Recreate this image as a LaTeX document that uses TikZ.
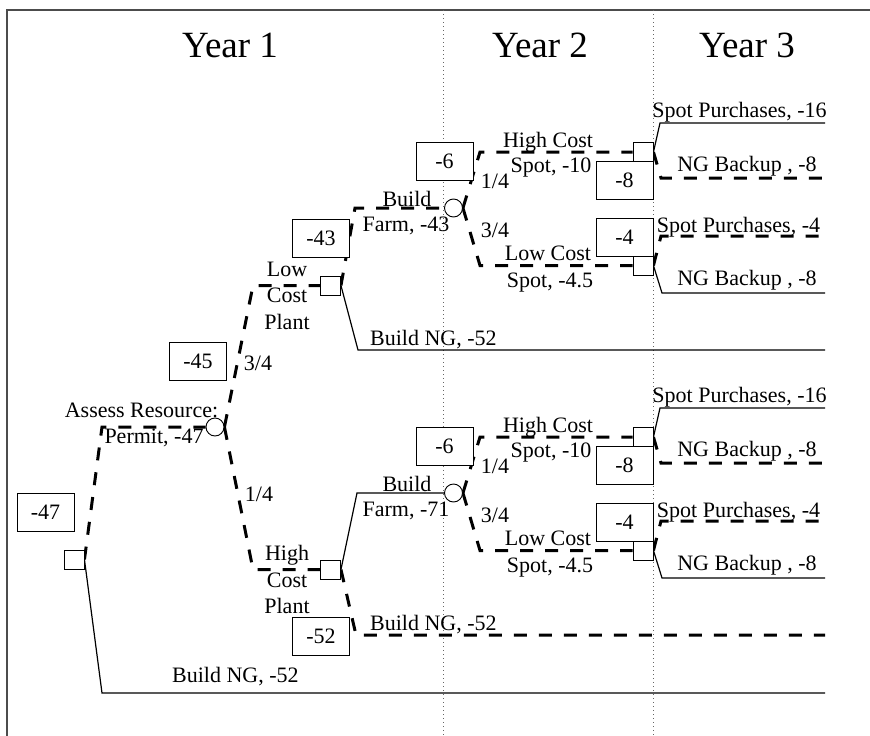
\documentclass[tikz,border=0pt]{standalone}
\usepackage{fontspec}
\setmainfont{Liberation Serif}
\usetikzlibrary{backgrounds}
\newcommand\lblfont{\fontsize{22}{26.5}\selectfont}
\newcommand\yearfont{\fontsize{37}{40}\selectfont}
\begin{document}
\begin{tikzpicture}[x=1pt,y=-1pt,
  decision/.style={draw, line width=0.9pt, minimum width=20pt, minimum height=19pt, inner sep=0pt, fill=white},
  chance/.style={circle, draw, line width=0.9pt, minimum size=18pt, inner sep=0pt, fill=white},
  valbox/.style={draw, line width=0.9pt, minimum width=57pt, minimum height=38pt, inner sep=0pt, fill=white, font=\lblfont},
  optimal/.style={line width=3pt, dash pattern=on 13pt off 12pt},
  branch/.style={line width=1.2pt},
  lbl/.style={font=\lblfont, inner sep=0pt, anchor=base},
  lblw/.style={font=\lblfont, inner sep=0pt, anchor=base west},
  year/.style={font=\yearfont, inner sep=0pt, anchor=base},
  divider/.style={line width=0.8pt, black!60, dash pattern=on 1pt off 3pt}
]
\useasboundingbox (0,0) rectangle (870,736);

% ---- column titles
\node[year] (year1) at (230,57) {Year 1};
\node[year] (year2) at (540,57) {Year 2};
\node[year] (year3) at (747,57) {Year 3};

% ---- decision and chance nodes
\node[decision] (root)  at (74,559.5) {};
\node[chance]   (assess) at (215,427) {};
\node[decision] (lowplant)  at (330.5,285.5) {};
\node[decision] (highplant) at (330.5,569.5) {};
\node[chance]   (farmA) at (453.5,208) {};
\node[chance]   (farmB) at (453.5,493) {};
\node[decision] (spotAH) at (643,152) {};
\node[decision] (spotAL) at (643,265.5) {};
\node[decision] (spotBH) at (643,437) {};
\node[decision] (spotBL) at (643,550.5) {};

% ---- expected values
\node[valbox] (v47) at (45.5,512.5) {-47};
\node[valbox] (v45) at (198,361) {-45};
\node[valbox] (v43) at (321,238) {-43};
\node[valbox] (v6a) at (444.5,161.5) {-6};
\node[valbox] (v8a) at (624.5,180.5) {-8};
\node[valbox] (v4a) at (624.5,237) {-4};
\node[valbox] (v6b) at (444.5,446.5) {-6};
\node[valbox] (v8b) at (624.5,465) {-8};
\node[valbox] (v4b) at (624.5,522) {-4};
\node[valbox] (v52) at (321,636) {-52};

% ---- branch corners and free ends
\coordinate (rootUp) at (102,427);
\coordinate (rootDn) at (102,693);
\coordinate (rootEnd) at (825,693);
\coordinate (assUp) at (253,285.5);
\coordinate (assDn) at (253,569.5);
\coordinate (lowUp) at (355,208);
\coordinate (lowDn) at (358,350);
\coordinate (lowEnd) at (825,350);
\coordinate (highUp) at (357,493);
\coordinate (highDn) at (356,635);
\coordinate (highEnd) at (825,635);
\coordinate (faUp) at (480,152);
\coordinate (faDn) at (480,265.5);
\coordinate (fbUp) at (480,437);
\coordinate (fbDn) at (480,550.5);
\coordinate (ahUp) at (660,123);   \coordinate (ahUpEnd) at (825,123);
\coordinate (ahDn) at (661,178);   \coordinate (ahDnEnd) at (825,178);
\coordinate (alUp) at (661,236);   \coordinate (alUpEnd) at (825,236);
\coordinate (alDn) at (662,293);   \coordinate (alDnEnd) at (825,293);
\coordinate (bhUp) at (660,408);   \coordinate (bhUpEnd) at (825,408);
\coordinate (bhDn) at (661,463);   \coordinate (bhDnEnd) at (825,463);
\coordinate (blUp) at (661,521);   \coordinate (blUpEnd) at (825,521);
\coordinate (blDn) at (662,578);   \coordinate (blDnEnd) at (825,578);

\begin{scope}[on background layer]
  % frame and year dividers
  \draw[line width=1.3pt, black!70] (7,736) -- (7,10) -- (870,10);
  \draw[divider] (443,10) -- (443,736);
  \draw[divider] (653,10) -- (653,736);

  % year 1
  \draw[optimal] (root.east) -- (rootUp) -- (assess.west);
  \draw[branch]  (root.east) -- (rootDn) -- (rootEnd);
  \draw[optimal] (assess.east) -- (assUp) -- (lowplant.west);
  \draw[optimal] (assess.east) -- (assDn) -- (highplant.west);
  \draw[optimal] (lowplant.east) -- (lowUp) -- (farmA.west);
  \draw[branch]  (lowplant.east) -- (lowDn) -- (lowEnd);
  \draw[branch]  (highplant.east) -- (highUp) -- (farmB.west);
  \draw[optimal] (highplant.east) -- (highDn) -- (highEnd);

  % year 2
  \draw[optimal] (farmA.east) -- (faUp) -- (spotAH.west);
  \draw[optimal] (farmA.east) -- (faDn) -- (spotAL.west);
  \draw[optimal] (farmB.east) -- (fbUp) -- (spotBH.west);
  \draw[optimal] (farmB.east) -- (fbDn) -- (spotBL.west);

  % year 3
  \draw[branch]  (spotAH.east) -- (ahUp) -- (ahUpEnd);
  \draw[optimal] (spotAH.east) -- (ahDn) -- (ahDnEnd);
  \draw[optimal] (spotAL.east) -- (alUp) -- (alUpEnd);
  \draw[branch]  (spotAL.east) -- (alDn) -- (alDnEnd);
  \draw[branch]  (spotBH.east) -- (bhUp) -- (bhUpEnd);
  \draw[optimal] (spotBH.east) -- (bhDn) -- (bhDnEnd);
  \draw[optimal] (spotBL.east) -- (blUp) -- (blUpEnd);
  \draw[branch]  (spotBL.east) -- (blDn) -- (blDnEnd);
\end{scope}

% ---- branch labels, year 1
\node[lbl] (tAssess1) at (141.5,417) {Assess Resource:};
\node[lbl] (tAssess2) at (154,443) {Permit, -47};
\node[lblw] (tRootNG) at (172,682) {Build NG, -52};
\node[lbl] (tP34) at (258,370) {3/4};
\node[lbl] (tP14) at (259,501) {1/4};
\node[lbl] (tLow1) at (287,276) {Low};
\node[lbl] (tLow2) at (287,302) {Cost};
\node[lbl] (tLow3) at (287,329) {Plant};
\node[lbl] (tHigh1) at (287,560) {High};
\node[lbl] (tHigh2) at (287,587) {Cost};
\node[lbl] (tHigh3) at (287,613) {Plant};
\node[lbl] (tFarmA1) at (407,206) {Build};
\node[lbl] (tFarmA2) at (406,231) {Farm, -43};
\node[lbl] (tFarmB1) at (407,491) {Build};
\node[lbl] (tFarmB2) at (406,516) {Farm, -71};
\node[lblw] (tLowNG) at (370,345) {Build NG, -52};
\node[lblw] (tHighNG) at (370,630) {Build NG, -52};

% ---- branch labels, year 2
\node[lbl] (tAH1) at (548,147) {High Cost};
\node[lbl] (tAH2) at (551,172) {Spot, -10};
\node[lbl] (tAL1) at (548,260) {Low Cost};
\node[lbl] (tAL2) at (550,287) {Spot, -4.5};
\node[lbl] (tAp14) at (495,188) {1/4};
\node[lbl] (tAp34) at (495,237) {3/4};
\node[lbl] (tBH1) at (548,432) {High Cost};
\node[lbl] (tBH2) at (551,457) {Spot, -10};
\node[lbl] (tBL1) at (548,545) {Low Cost};
\node[lbl] (tBL2) at (550,572) {Spot, -4.5};
\node[lbl] (tBp14) at (495,473) {1/4};
\node[lbl] (tBp34) at (495,522) {3/4};

% ---- branch labels, year 3
\node[lbl] (tAHs) at (739.5,117) {Spot Purchases, -16};
\node[lbl] (tAHb) at (747,171) {NG Backup , -8};
\node[lbl] (tALs) at (738.5,232) {Spot Purchases, -4};
\node[lbl] (tALb) at (747,285) {NG Backup , -8};
\node[lbl] (tBHs) at (739.5,402) {Spot Purchases, -16};
\node[lbl] (tBHb) at (747,456) {NG Backup , -8};
\node[lbl] (tBLs) at (738.5,517) {Spot Purchases, -4};
\node[lbl] (tBLb) at (747,570) {NG Backup , -8};
\end{tikzpicture}
\end{document}
